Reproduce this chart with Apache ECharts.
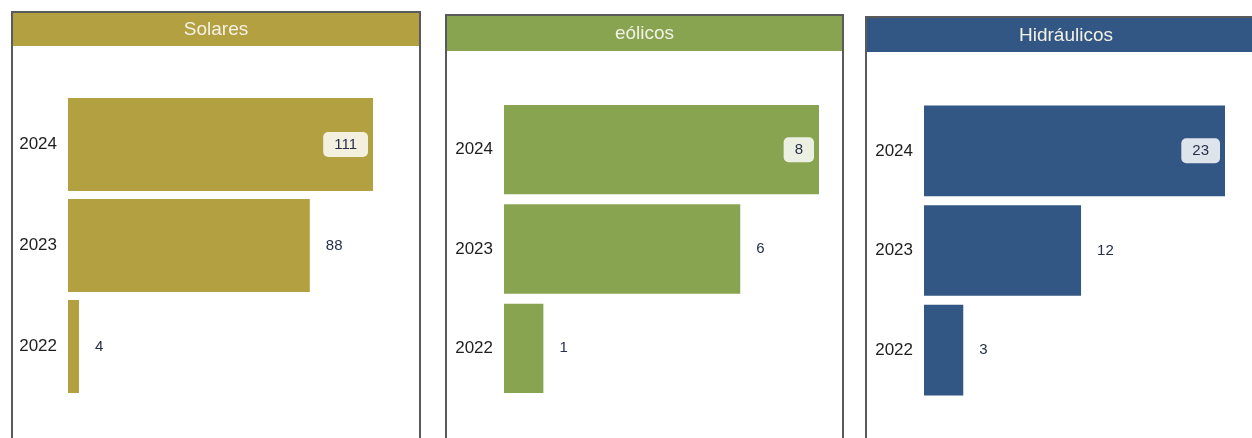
<!DOCTYPE html>
<html>
<head>
<meta charset="utf-8">
<script src="https://cdn.jsdelivr.net/npm/echarts@6/dist/echarts.min.js"></script>
<style>
  html, body { margin: 0; padding: 0; background: #ffffff; }
  #chart { width: 1252px; height: 438px; }
</style>
</head>
<body>
<div id="chart"></div>
<script>
// Installed capacity counts per technology and year
const years = ['2022', '2023', '2024'];
const solares = [4, 88, 111];
const eolicos = [1, 6, 8];
const hidraulicos = [3, 12, 23];
const panelTitles = ['Solares', 'eólicos', 'Hidráulicos'];
const panelColors = ['#b3a040', '#88a450', '#335784'];

// Panel frames: [left, top, right, headerBottom, gridLeft, gridTop, gridWidth, gridHeight, gap]
const frames = [
  [12, 12, 420, 46, 68, 94, 305, 303, '8%'],
  [446, 15, 843, 51, 504, 100, 315, 298, '10%'],
  [866, 17, 1266, 52, 924, 101, 301, 299, '9%']
];
const seriesValues = [solares, eolicos, hidraulicos];

const font = '"Liberation Sans", Arial, sans-serif';
const chart = echarts.init(document.getElementById('chart'), null, { renderer: 'canvas' });

const graphics = [];
const grids = [], xAxes = [], yAxes = [], series = [];

frames.forEach((f, i) => {
  const [l, t, r, hb, gl, gt, gw, gh, gap] = f;
  // outer frame
  graphics.push({
    type: 'rect', z: 0,
    shape: { x: l, y: t, width: r - l, height: 460 - t },
    style: { fill: '#ffffff', stroke: '#5a5a5a', lineWidth: 2 }
  });
  // header band
  graphics.push({
    type: 'rect', z: 1,
    shape: { x: l + 1, y: t + 1, width: r - l - 2, height: hb - t - 1 },
    style: { fill: panelColors[i] }
  });
  graphics.push({
    type: 'text', z: 2,
    x: (l + r) / 2, y: (t + hb) / 2 + 1,
    style: {
      text: panelTitles[i], fill: '#f3f1e6', font: '19px ' + font,
      align: 'center', verticalAlign: 'middle'
    }
  });

  grids.push({ left: gl, top: gt, width: gw, height: gh, containLabel: false });
  xAxes.push({
    gridIndex: i, type: 'value', min: 0, max: 'dataMax',
    show: false
  });
  yAxes.push({
    gridIndex: i, type: 'category', data: years,
    axisLine: { show: false }, axisTick: { show: false },
    splitLine: { show: false },
    axisLabel: { color: '#1e1e1e', fontSize: 17, fontFamily: font, margin: 11 }
  });

  const vals = seriesValues[i];
  const top = vals.length - 1;
  series.push({
    type: 'bar', xAxisIndex: i, yAxisIndex: i,
    barCategoryGap: gap,
    itemStyle: { color: panelColors[i] },
    label: {
      show: true, position: 'right', distance: 16,
      color: '#27304a', fontSize: 15, fontFamily: font
    },
    data: vals.map((v, k) => k === top ? {
      value: v,
      label: {
        position: 'insideRight', distance: 5,
        backgroundColor: 'rgba(255,255,255,0.84)',
        borderRadius: 5, padding: [5, 11, 5, 11]
      }
    } : v)
  });
});

chart.setOption({
  animation: false,
  backgroundColor: '#ffffff',
  graphic: graphics,
  grid: grids,
  xAxis: xAxes,
  yAxis: yAxes,
  series: series
});
</script>
</body>
</html>
